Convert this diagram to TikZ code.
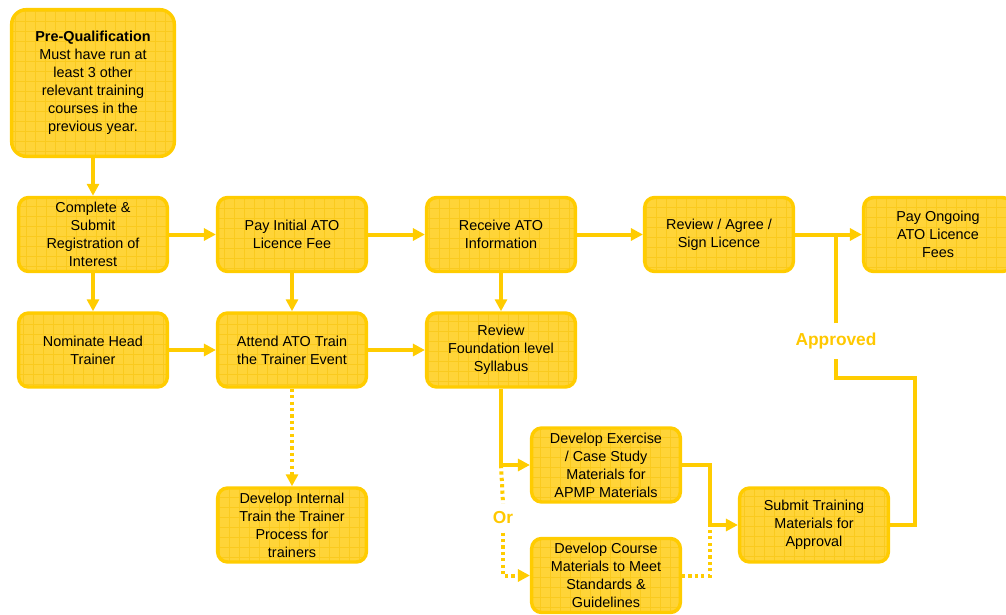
\documentclass[tikz,border=0pt]{standalone}
\usepackage{fontspec}
\setmainfont{Liberation Sans}
\usetikzlibrary{arrows.meta}

\definecolor{boxfill}{RGB}{255,212,56}
\definecolor{boxgrid}{RGB}{250,202,30}
\definecolor{flowline}{RGB}{255,204,0}
\definecolor{flowtext}{RGB}{255,200,0}

\tikzset{every picture/.style={line width=0.75pt}}
\tikzset{
  stagebox/.style={draw=flowline, fill=boxfill, line width=2.6pt, rounded corners=7.5pt,
    minimum width=111.5pt, minimum height=55.5pt, align=center, inner sep=0.75pt,
    font=\fontsize{10.8}{13.5}\selectfont,
    path picture={\draw[boxgrid, line width=0.5pt]
      ([shift={(-5pt,-5pt)}]path picture bounding box.south west) grid[step=7.5pt]
      (path picture bounding box.north east);}},
  flow/.style={draw=flowline, line width=3pt, -{Triangle[length=9pt,width=9pt]}},
  flowplain/.style={draw=flowline, line width=3pt},
  flowdots/.style={draw=flowline, line width=3pt, dash pattern=on 2.4pt off 2.4pt},
  flowlabel/.style={text=flowtext, font=\fontsize{13}{15}\selectfont\bfseries, inner xsep=2pt}
}

\begin{document}
\begin{tikzpicture}[x=0.75pt,y=0.75pt,yscale=-1,xscale=1]
\useasboundingbox (0,0) rectangle (1006,614);

% Pre-qualification box
\node [stagebox, minimum width=122pt, minimum height=110pt, rounded corners=11pt] (preq) at (93,83)
  {\textbf{Pre-Qualification}\\Must have run at\\least 3 other\\relevant training\\courses in the\\previous year.};

% Top row
\node [stagebox] (register) at (93,234.5) {Complete \&\\Submit\\Registration of\\Interest};
\node [stagebox] (payinit) at (292,234.5) {Pay Initial ATO\\Licence Fee};
\node [stagebox] (receive) at (501,234.5) {Receive ATO\\Information};
\node [stagebox] (signlic) at (719,234.5) {Review / Agree /\\Sign Licence};
\node [stagebox] (payongo) at (938,234.5) {Pay Ongoing\\ATO Licence\\Fees};

% Second row
\node [stagebox] (nominate) at (93,350) {Nominate Head\\Trainer};
\node [stagebox] (attend) at (292,350) {Attend ATO Train\\the Trainer Event};
\node [stagebox] (syllabus) at (501,350) {Review\\Foundation level\\Syllabus};

% Lower boxes
\node [stagebox] (internal) at (292,525) {Develop Internal\\Train the Trainer\\Process for\\trainers};
\node [stagebox] (exercise) at (606,465) {Develop Exercise\\/ Case Study\\Materials for\\APMP Materials};
\node [stagebox] (course) at (606,575.5) {Develop Course\\Materials to Meet\\Standards \&\\Guidelines};
\node [stagebox] (submit) at (814,525) {Submit Training\\Materials for\\Approval};

% Labels on lines
\node [flowlabel, inner ysep=6pt] (ortext) at (503,518) {Or};
\node [flowlabel, inner ysep=7pt] (approved) at (836,341) {Approved};

% Helper points
\coordinate (merge) at (710,525);
\coordinate (backup) at (915,378);

% Connectors
\draw [flow] (preq) -- (register);
\draw [flow] (register) -- (payinit);
\draw [flow] (payinit) -- (receive);
\draw [flow] (receive) -- (signlic);
\draw [flow] (signlic) -- (payongo);
\draw [flow] (register) -- (nominate);
\draw [flow] (payinit) -- (attend);
\draw [flow] (receive) -- (syllabus);
\draw [flow] (nominate) -- (attend);
\draw [flow] (attend) -- (syllabus);
\draw [flowdots, -{Triangle[length=9pt,width=9pt]}] (attend) -- (internal);
\draw [flow] (syllabus.south) |- (exercise.west);
\draw [flowdots] (syllabus.south |- exercise.west) -- (ortext.north);
\draw [flowdots, -{Triangle[length=9pt,width=9pt]}] (ortext.south) |- (course.west);
\draw [flow] (exercise.east) -| (merge) -- (submit.west);
\draw [flowdots] (course.east) -| (merge);
\draw [flowplain] (submit.east) -| (backup) -| (approved.south);
\draw [flowplain] (approved.north) -- (approved.north |- signlic.east);

\end{tikzpicture}
\end{document}
